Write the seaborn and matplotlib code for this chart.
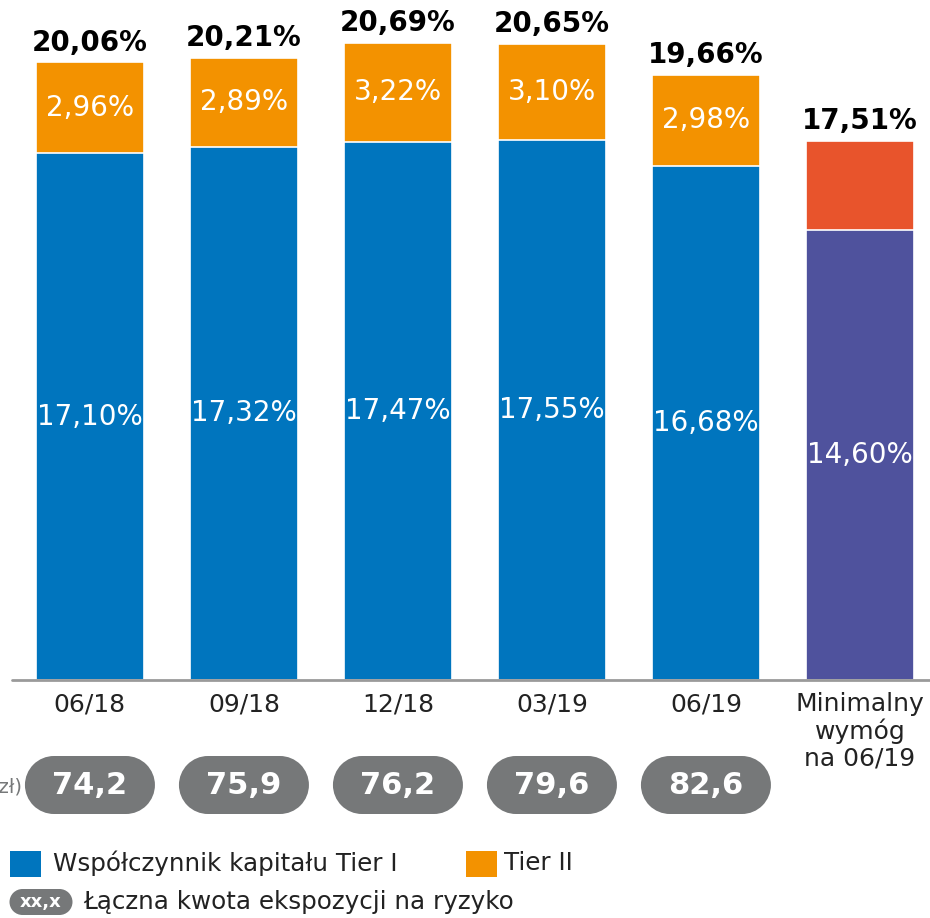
import pandas as pd
import matplotlib.pyplot as plt
import seaborn as sns
from matplotlib.patches import Rectangle, Circle
from matplotlib.transforms import IdentityTransform

sns.set_theme(style="white")
plt.rcParams['font.family'] = ['DejaVu Sans']

# dane
kategorie = ['06/18', '09/18', '12/18', '03/19', '06/19', 'Minimalny\nwymóg\nna 06/19']
tier1 = [17.10, 17.32, 17.47, 17.55, 16.68, 14.60]
tier2 = [2.96, 2.89, 3.22, 3.10, 2.98, 2.91]
razem = [20.06, 20.21, 20.69, 20.65, 19.66, 17.51]
ekspozycja = [74.2, 75.9, 76.2, 79.6, 82.6]

kolor_t1 = ['#0075BE'] * 5 + ['#4F529D']
kolor_t2 = ['#F39200'] * 5 + ['#E8542C']
szary = '#767879'
tekst = '#222222'

df = pd.DataFrame({'kat': kategorie, 'tier1': tier1, 'razem': razem})

W, H = 930, 918
fig = plt.figure(figsize=(W / 100, H / 100), dpi=100)
ax = fig.add_axes([0, 1 - 680 / H, 1, 680 / H])

sns.barplot(data=df, x='kat', y='razem', hue='kat', palette=kolor_t2, legend=False,
            width=0.7, edgecolor='white', linewidth=1.2, saturation=1, ax=ax)
sns.barplot(data=df, x='kat', y='tier1', hue='kat', palette=kolor_t1, legend=False,
            width=0.7, edgecolor='white', linewidth=1.2, saturation=1, ax=ax)

ax.set_xlim(-0.584, 5.455)
ax.set_ylim(0, 22.08)
ax.set_xlabel('')
ax.set_ylabel('')
ax.set_yticks([])
for s in ax.spines.values():
    s.set_visible(False)
ax.axhline(0, xmin=12 / W, xmax=1, color='#9A9A9A', lw=2, clip_on=False)
ax.tick_params(axis='x', length=0, pad=9, labelsize=18, labelcolor=tekst)
for lab in ax.get_xticklabels():
    lab.set_linespacing(1.12)
    lab.set_verticalalignment('top')

for i in range(len(kategorie)):
    ax.text(i, tier1[i] / 2, f'{tier1[i]:.2f}%'.replace('.', ','), ha='center', va='center',
            color='white', fontsize=20)
    if i < 5:
        ax.text(i, tier1[i] + (razem[i] - tier1[i]) / 2, f'{tier2[i]:.2f}%'.replace('.', ','),
                ha='center', va='center', color='white', fontsize=20)
    ax.annotate(f'{razem[i]:.2f}%'.replace('.', ','), (i, razem[i]), xytext=(0, 4),
                textcoords='offset points', ha='center', va='bottom',
                fontsize=20, fontweight='bold', color='black')


def pigulka(cx, cy, w, h):
    # zaokraglony prostokat w pikselach (poczatek ukladu w lewym dolnym rogu)
    r = h / 2
    tr = IdentityTransform()
    fig.add_artist(Rectangle((cx - w / 2 + r, cy - r), w - 2 * r, h, transform=tr,
                             facecolor=szary, edgecolor='none'))
    for x in (cx - w / 2 + r, cx + w / 2 - r):
        fig.add_artist(Circle((x, cy), r, transform=tr, facecolor=szary, edgecolor='none'))


# pigulki z ekspozycja na ryzyko
fig.canvas.draw()
for i, val in enumerate(ekspozycja):
    cx = ax.transData.transform((i, 0))[0]
    pigulka(cx, H - 785, 130, 58)
    fig.text(cx / W, 1 - 785 / H, f'{val:.1f}'.replace('.', ','),
             ha='center', va='center', color='white', fontsize=22, fontweight='bold')

fig.text(22 / W, 1 - 787 / H, '(mld zł)', ha='right', va='center', color=szary, fontsize=14)

# legenda
fig.add_artist(Rectangle((10 / W, 1 - 877 / H), 31 / W, 26 / H, transform=fig.transFigure,
                         facecolor='#0075BE', edgecolor='none'))
fig.text(53 / W, 1 - 863 / H, 'Współczynnik kapitału Tier I', ha='left', va='center',
         fontsize=17.7, color=tekst)
fig.add_artist(Rectangle((466 / W, 1 - 877 / H), 31 / W, 26 / H, transform=fig.transFigure,
                         facecolor='#F39200', edgecolor='none'))
fig.text(504 / W, 1 - 863 / H, 'Tier II', ha='left', va='center', fontsize=17.7, color=tekst)
pigulka(41, H - 902, 63, 26)
fig.text(41 / W, 1 - 902 / H, 'xx,x', ha='center', va='center', color='white',
         fontsize=13, fontweight='bold')
fig.text(83 / W, 1 - 902 / H, 'Łączna kwota ekspozycji na ryzyko', ha='left', va='center',
         fontsize=17.7, color=tekst)

plt.savefig('out.png', dpi=100)
plt.close()
